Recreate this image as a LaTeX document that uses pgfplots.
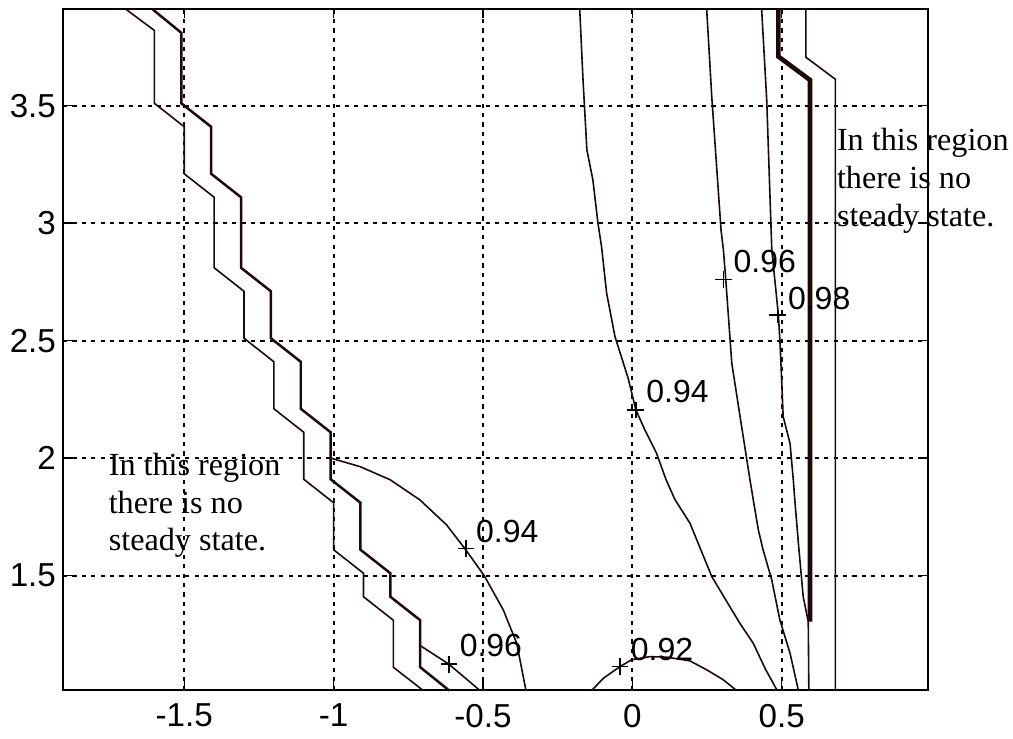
\documentclass[border=0pt]{standalone}
\usepackage{fontspec}
\usepackage{pgfplots}
\pgfplotsset{compat=1.18}
\newfontfamily\arialf{Liberation Sans}
\newfontfamily\timesf{Liberation Serif}
\definecolor{cl}{RGB}{30,8,8}
\begin{document}
\begin{tikzpicture}
\begin{axis}[
  scale only axis,
  width=432.8pt, height=340.7pt,
  xmin=-1.906, xmax=0.991, ymin=1.011, ymax=3.910,
  xtick={-1.5,-1,-0.5,0,0.5}, xticklabels={-1.5,-1,-0.5,0,0.5},
  ytick={1.5,2,2.5,3,3.5}, yticklabels={1.5,2,2.5,3,3.5},
  tick align=inside, major tick length=4.5pt,
  tick style={black, line width=0.7pt},
  grid=major,
  major grid style={black, line width=1pt, dash pattern=on 2.1pt off 2.6pt},
  axis line style={black, line width=1pt},
  ticklabel style={font=\arialf\fontsize{16.6}{19}\selectfont},
  xticklabel style={yshift=-3.2pt},
  clip=false,
  cline/.style={cl, line width=0.8pt, mark=none},
]
% left staircase (thin)
\addplot[cline] coordinates {(-1.695,3.910) (-1.60,3.82) (-1.60,3.51) (-1.50,3.41) (-1.50,3.21) (-1.40,3.11) (-1.40,2.81) (-1.30,2.71) (-1.30,2.51) (-1.20,2.41) (-1.20,2.21) (-1.10,2.11) (-1.10,1.91) (-1.00,1.81) (-1.00,1.61) (-0.90,1.51) (-0.90,1.41) (-0.80,1.31) (-0.80,1.11) (-0.70,1.011)};
% left staircase (boundary)
\addplot[cline, line width=1.25pt] coordinates {(-1.606,3.910) (-1.51,3.81) (-1.51,3.51) (-1.41,3.41) (-1.41,3.21) (-1.31,3.11) (-1.31,2.81) (-1.21,2.71) (-1.21,2.51) (-1.11,2.41) (-1.11,2.21) (-1.01,2.11) (-1.01,1.91) (-0.91,1.81) (-0.91,1.61) (-0.81,1.51) (-0.81,1.41) (-0.71,1.31) (-0.71,1.11) (-0.613,1.011)};
% 0.96 bottom
\addplot[cline] coordinates {(-0.71,1.202) (-0.614,1.123) (-0.510,1.011)};
% 0.94 arc
\addplot[cline] coordinates {(-1.010,2.000) (-0.912,1.964) (-0.811,1.908) (-0.711,1.822) (-0.622,1.716) (-0.560,1.614) (-0.496,1.500) (-0.432,1.354) (-0.387,1.212) (-0.356,1.011)};
% 0.92 arc
\addplot[cline] coordinates {(-0.136,1.011) (-0.097,1.063) (-0.041,1.113) (-0.002,1.142) (0.059,1.155) (0.115,1.153) (0.193,1.137) (0.249,1.099) (0.304,1.057) (0.349,1.011)};
% 0.94 right
\addplot[cline] coordinates {(-0.176,3.910) (-0.165,3.609) (-0.152,3.311) (-0.132,3.184) (-0.115,3.000) (-0.103,2.900) (-0.086,2.702) (-0.058,2.517) (-0.014,2.340) (0.012,2.205) (0.042,2.120) (0.081,2.021) (0.113,1.908) (0.143,1.823) (0.193,1.723) (0.266,1.496) (0.360,1.297) (0.405,1.212) (0.444,1.106) (0.485,1.011)};
% 0.96 right
\addplot[cline] coordinates {(0.249,3.910) (0.266,3.538) (0.297,2.971) (0.305,2.886) (0.313,2.758) (0.333,2.404) (0.366,2.134) (0.394,1.907) (0.405,1.822) (0.422,1.694) (0.438,1.609) (0.467,1.481) (0.494,1.311) (0.528,1.170) (0.556,1.011)};
% 0.98
\addplot[cline] coordinates {(0.433,3.910) (0.450,3.524) (0.467,2.886) (0.489,2.609) (0.494,2.503) (0.500,2.333) (0.505,2.177) (0.528,2.063) (0.539,1.907) (0.544,1.822) (0.556,1.638) (0.572,1.411) (0.589,1.304) (0.591,1.011)};
% bold right boundary
\addplot[cline, line width=2.3pt] coordinates {(0.489,3.910) (0.489,3.709) (0.595,3.609) (0.595,1.304)};
% thin right
\addplot[cline] coordinates {(0.581,3.910) (0.581,3.706) (0.680,3.612) (0.680,1.011)};
% label markers
\addplot[only marks, mark=+, mark size=4.2pt, black, line width=0.7pt] coordinates {(-0.614,1.123) (-0.557,1.616) (-0.041,1.113) (0.012,2.205) (0.305,2.761) (0.487,2.609)};
% contour labels
\begin{scope}[every node/.style={anchor=base west, inner sep=0pt, font=\arialf\fontsize{16}{18}\selectfont}]
\node at (axis cs:-0.579,1.155) {0.96};
\node at (axis cs:-0.524,1.640) {0.94};
\node at (axis cs:-0.006,1.138) {0.92};
\node at (axis cs:0.046,2.236) {0.94};
\node at (axis cs:0.338,2.789) {0.96};
\node at (axis cs:0.520,2.631) {0.98};
\end{scope}
\begin{scope}[every node/.style={anchor=base west, inner sep=0pt, font=\timesf\fontsize{16.1}{19}\selectfont}]
\node at (axis cs:0.684,3.311) {In this region};
\node at (axis cs:0.684,3.149) {there is no};
\node at (axis cs:0.684,2.985) {steady state.};
\node at (axis cs:-1.754,1.926) {In this region};
\node at (axis cs:-1.754,1.766) {there is no};
\node at (axis cs:-1.754,1.606) {steady state.};
\end{scope}
\end{axis}
\pgfresetboundingbox
\useasboundingbox ([shift={(-31.5pt,-24.15pt)}]current axis.south west) rectangle ([shift={(42.35pt,4.65pt)}]current axis.north east);
\end{tikzpicture}
\end{document}
